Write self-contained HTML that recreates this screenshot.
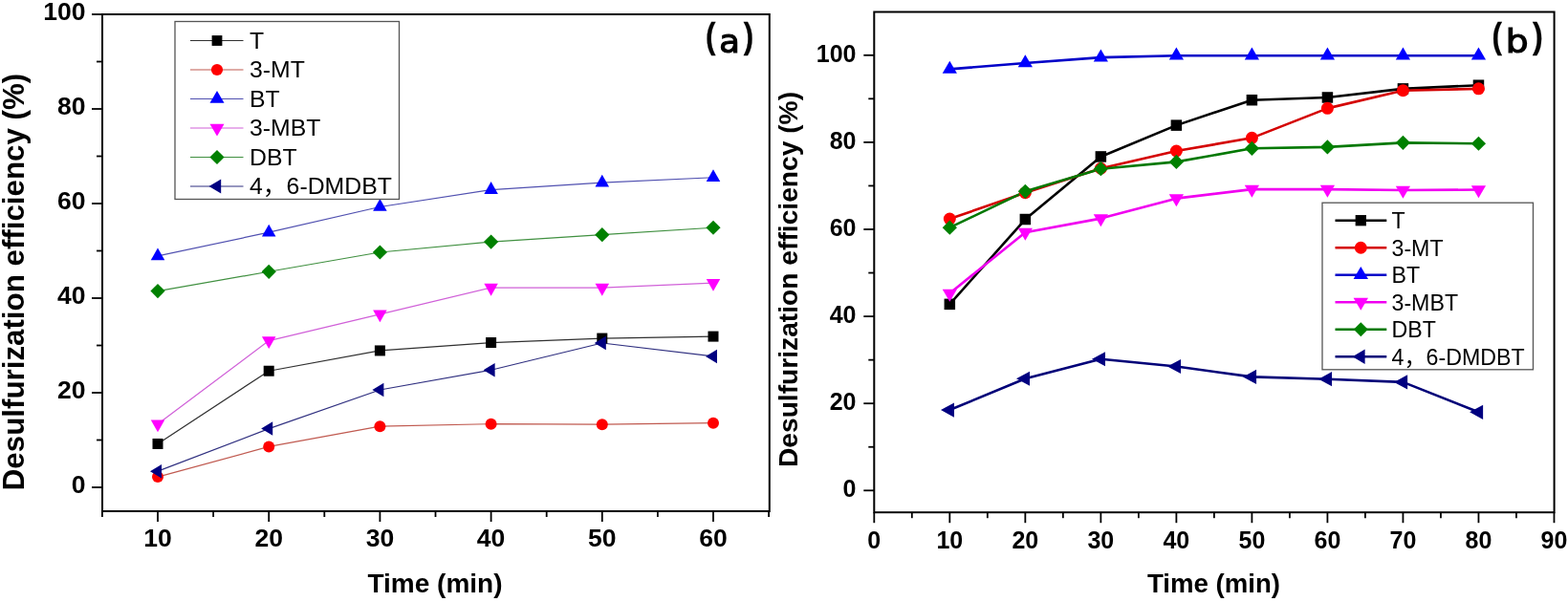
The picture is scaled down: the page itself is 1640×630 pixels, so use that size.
<!DOCTYPE html>
<html><head><meta charset="utf-8"><title>Desulfurization efficiency</title><style>
html,body{margin:0;padding:0;background:#fff;}
body{width:1640px;height:630px;overflow:hidden;}
svg{display:block;}
text{font-family:"Liberation Sans",Arial,sans-serif;fill:#000;}
.tl{font-size:26.5px;font-weight:bold;}
.tr{font-size:25px;font-weight:bold;}
.xtl{font-size:28px;font-weight:bold;}
.xtr{font-size:27.6px;font-weight:bold;}
.ytl{font-size:31.3px;font-weight:bold;}
.ytr{font-size:28.2px;font-weight:bold;}
.pla{font-size:38px;font-weight:bold;letter-spacing:2.5px;}
.lgl{font-size:24.8px;}
.lgr{font-size:23.2px;}
.cjk{font-family:"Liberation Sans","Noto Sans CJK SC",sans-serif;}
</style></head>
<body><svg width="1640" height="630" viewBox="0 0 1640 630">
<rect x="0" y="0" width="1640" height="630" fill="#fff"/>
<polyline points="165.00,464.46 281.20,388.23 397.40,366.94 513.60,358.53 629.80,354.07 746.00,352.10" fill="none" stroke="#303030" stroke-width="1.2" stroke-linejoin="round"/>
<polyline points="165.00,499.11 281.20,467.43 397.40,446.14 513.60,443.67 629.80,444.16 746.00,442.68" fill="none" stroke="#c05a50" stroke-width="1.2" stroke-linejoin="round"/>
<polyline points="165.00,267.94 281.20,243.19 397.40,216.47 513.60,198.64 629.80,191.22 746.00,185.77" fill="none" stroke="#5050b0" stroke-width="1.2" stroke-linejoin="round"/>
<polyline points="165.00,443.67 281.20,356.55 397.40,328.83 513.60,301.11 629.80,301.11 746.00,296.16" fill="none" stroke="#d060d8" stroke-width="1.2" stroke-linejoin="round"/>
<polyline points="165.00,304.57 281.20,284.28 397.40,263.99 513.60,253.09 629.80,245.67 746.00,238.25" fill="none" stroke="#409040" stroke-width="1.2" stroke-linejoin="round"/>
<polyline points="165.00,493.17 281.20,448.62 397.40,408.03 513.60,387.24 629.80,359.02 746.00,372.88" fill="none" stroke="#303080" stroke-width="1.2" stroke-linejoin="round"/>
<rect x="159.50" y="458.96" width="11" height="11" fill="#000000"/>
<rect x="275.70" y="382.73" width="11" height="11" fill="#000000"/>
<rect x="391.90" y="361.44" width="11" height="11" fill="#000000"/>
<rect x="508.10" y="353.03" width="11" height="11" fill="#000000"/>
<rect x="624.30" y="348.57" width="11" height="11" fill="#000000"/>
<rect x="740.50" y="346.60" width="11" height="11" fill="#000000"/>
<circle cx="165.00" cy="499.11" r="6.0" fill="#ff0000"/>
<circle cx="281.20" cy="467.43" r="6.0" fill="#ff0000"/>
<circle cx="397.40" cy="446.14" r="6.0" fill="#ff0000"/>
<circle cx="513.60" cy="443.67" r="6.0" fill="#ff0000"/>
<circle cx="629.80" cy="444.16" r="6.0" fill="#ff0000"/>
<circle cx="746.00" cy="442.68" r="6.0" fill="#ff0000"/>
<polygon points="165.00,259.41 172.25,272.21 157.75,272.21" fill="#0000ff"/>
<polygon points="281.20,234.66 288.45,247.46 273.95,247.46" fill="#0000ff"/>
<polygon points="397.40,207.93 404.65,220.73 390.15,220.73" fill="#0000ff"/>
<polygon points="513.60,190.11 520.85,202.91 506.35,202.91" fill="#0000ff"/>
<polygon points="629.80,182.69 637.05,195.49 622.55,195.49" fill="#0000ff"/>
<polygon points="746.00,177.24 753.25,190.04 738.75,190.04" fill="#0000ff"/>
<polygon points="165.00,452.20 172.25,439.40 157.75,439.40" fill="#ff00ff"/>
<polygon points="281.20,365.08 288.45,352.28 273.95,352.28" fill="#ff00ff"/>
<polygon points="397.40,337.36 404.65,324.56 390.15,324.56" fill="#ff00ff"/>
<polygon points="513.60,309.64 520.85,296.84 506.35,296.84" fill="#ff00ff"/>
<polygon points="629.80,309.64 637.05,296.84 622.55,296.84" fill="#ff00ff"/>
<polygon points="746.00,304.69 753.25,291.89 738.75,291.89" fill="#ff00ff"/>
<polygon points="165.00,296.97 172.60,304.57 165.00,312.18 157.40,304.57" fill="#008000"/>
<polygon points="281.20,276.68 288.80,284.28 281.20,291.88 273.60,284.28" fill="#008000"/>
<polygon points="397.40,256.38 405.00,263.99 397.40,271.59 389.80,263.99" fill="#008000"/>
<polygon points="513.60,245.49 521.20,253.09 513.60,260.69 506.00,253.09" fill="#008000"/>
<polygon points="629.80,238.07 637.40,245.67 629.80,253.27 622.20,245.67" fill="#008000"/>
<polygon points="746.00,230.65 753.60,238.25 746.00,245.84 738.40,238.25" fill="#008000"/>
<polygon points="157.00,493.17 169.00,485.92 169.00,500.42" fill="#000080"/>
<polygon points="273.20,448.62 285.20,441.37 285.20,455.87" fill="#000080"/>
<polygon points="389.40,408.03 401.40,400.78 401.40,415.28" fill="#000080"/>
<polygon points="505.60,387.24 517.60,379.99 517.60,394.49" fill="#000080"/>
<polygon points="621.80,359.02 633.80,351.77 633.80,366.27" fill="#000080"/>
<polygon points="738.00,372.88 750.00,365.63 750.00,380.13" fill="#000080"/>
<rect x="107" y="15" width="697.8" height="520" fill="none" stroke="#000" stroke-width="2"/>
<line x1="96" y1="510.00" x2="107" y2="510.00" stroke="#000" stroke-width="1.8"/>
<text x="89.4" y="516.40" text-anchor="end" class="tl">0</text>
<line x1="96" y1="411.00" x2="107" y2="411.00" stroke="#000" stroke-width="1.8"/>
<text x="89.4" y="417.40" text-anchor="end" class="tl">20</text>
<line x1="96" y1="312.00" x2="107" y2="312.00" stroke="#000" stroke-width="1.8"/>
<text x="89.4" y="318.40" text-anchor="end" class="tl">40</text>
<line x1="96" y1="213.00" x2="107" y2="213.00" stroke="#000" stroke-width="1.8"/>
<text x="89.4" y="219.40" text-anchor="end" class="tl">60</text>
<line x1="96" y1="114.00" x2="107" y2="114.00" stroke="#000" stroke-width="1.8"/>
<text x="89.4" y="120.40" text-anchor="end" class="tl">80</text>
<line x1="96" y1="15.00" x2="107" y2="15.00" stroke="#000" stroke-width="1.8"/>
<text x="89.4" y="21.40" text-anchor="end" class="tl">100</text>
<line x1="101" y1="460.50" x2="107" y2="460.50" stroke="#000" stroke-width="1.8"/>
<line x1="101" y1="361.50" x2="107" y2="361.50" stroke="#000" stroke-width="1.8"/>
<line x1="101" y1="262.50" x2="107" y2="262.50" stroke="#000" stroke-width="1.8"/>
<line x1="101" y1="163.50" x2="107" y2="163.50" stroke="#000" stroke-width="1.8"/>
<line x1="101" y1="64.50" x2="107" y2="64.50" stroke="#000" stroke-width="1.8"/>
<line x1="165.00" y1="535" x2="165.00" y2="546" stroke="#000" stroke-width="1.8"/>
<text x="165.00" y="572" text-anchor="middle" class="tl">10</text>
<line x1="281.20" y1="535" x2="281.20" y2="546" stroke="#000" stroke-width="1.8"/>
<text x="281.20" y="572" text-anchor="middle" class="tl">20</text>
<line x1="397.40" y1="535" x2="397.40" y2="546" stroke="#000" stroke-width="1.8"/>
<text x="397.40" y="572" text-anchor="middle" class="tl">30</text>
<line x1="513.60" y1="535" x2="513.60" y2="546" stroke="#000" stroke-width="1.8"/>
<text x="513.60" y="572" text-anchor="middle" class="tl">40</text>
<line x1="629.80" y1="535" x2="629.80" y2="546" stroke="#000" stroke-width="1.8"/>
<text x="629.80" y="572" text-anchor="middle" class="tl">50</text>
<line x1="746.00" y1="535" x2="746.00" y2="546" stroke="#000" stroke-width="1.8"/>
<text x="746.00" y="572" text-anchor="middle" class="tl">60</text>
<line x1="106.90" y1="535" x2="106.90" y2="541" stroke="#000" stroke-width="1.8"/>
<line x1="223.10" y1="535" x2="223.10" y2="541" stroke="#000" stroke-width="1.8"/>
<line x1="339.30" y1="535" x2="339.30" y2="541" stroke="#000" stroke-width="1.8"/>
<line x1="455.50" y1="535" x2="455.50" y2="541" stroke="#000" stroke-width="1.8"/>
<line x1="571.70" y1="535" x2="571.70" y2="541" stroke="#000" stroke-width="1.8"/>
<line x1="687.90" y1="535" x2="687.90" y2="541" stroke="#000" stroke-width="1.8"/>
<line x1="804.10" y1="535" x2="804.10" y2="541" stroke="#000" stroke-width="1.8"/>
<text x="455" y="620.3" text-anchor="middle" class="xtl">Time (min)</text>
<text transform="translate(25,295) rotate(-90)" text-anchor="middle" class="ytl">Desulfurization efficiency (%)</text>
<text transform="translate(738.12,50.20) scale(0.791,0.938)" style="font-family:'Liberation Sans',sans-serif;font-weight:bold;font-size:39.5px;stroke:#000;stroke-width:0.3px">(</text>
<text transform="translate(752.31,55.20) scale(0.994,0.940)" style="font-family:'DejaVu Sans',sans-serif;font-weight:normal;font-size:35.5px;stroke:#000;stroke-width:1.2px">a</text>
<text transform="translate(777.80,50.20) scale(0.791,0.938)" style="font-family:'Liberation Sans',sans-serif;font-weight:bold;font-size:39.5px;stroke:#000;stroke-width:0.3px">)</text>
<rect x="183" y="22.5" width="234.5" height="186.0" fill="#fff" stroke="#555" stroke-width="1.3"/>
<line x1="199" y1="42.50" x2="254.5" y2="42.50" stroke="#303030" stroke-width="1.2"/>
<rect x="221.60" y="37.10" width="10.8" height="10.8" fill="#000000"/>
<text x="261" y="50.50" class="lgl">T</text>
<line x1="199" y1="73.00" x2="254.5" y2="73.00" stroke="#c05a50" stroke-width="1.2"/>
<circle cx="227.00" cy="73.00" r="6.1" fill="#ff0000"/>
<text x="261" y="81.00" class="lgl">3-MT</text>
<line x1="199" y1="103.50" x2="254.5" y2="103.50" stroke="#5050b0" stroke-width="1.2"/>
<polygon points="227.00,95.10 234.50,107.70 219.50,107.70" fill="#0000ff"/>
<text x="261" y="111.50" class="lgl">BT</text>
<line x1="199" y1="134.00" x2="254.5" y2="134.00" stroke="#d060d8" stroke-width="1.2"/>
<polygon points="227.00,142.40 234.50,129.80 219.50,129.80" fill="#ff00ff"/>
<text x="261" y="142.00" class="lgl">3-MBT</text>
<line x1="199" y1="164.50" x2="254.5" y2="164.50" stroke="#409040" stroke-width="1.2"/>
<polygon points="227.00,156.90 234.60,164.50 227.00,172.10 219.40,164.50" fill="#008000"/>
<text x="261" y="172.50" class="lgl">DBT</text>
<line x1="199" y1="195.00" x2="254.5" y2="195.00" stroke="#303080" stroke-width="1.2"/>
<polygon points="218.60,195.00 231.20,187.50 231.20,202.50" fill="#000080"/>
<text x="261" y="203.00" class="lgl">4<tspan class="cjk">，</tspan>6-DMDBT</text>
<polyline points="993.32,318.35 1072.34,229.52 1151.36,163.93 1230.38,131.14 1309.40,104.72 1388.42,101.98 1467.44,92.87 1546.46,89.23" fill="none" stroke="#000000" stroke-width="2.6" stroke-linejoin="round"/>
<polyline points="993.32,229.07 1072.34,201.74 1151.36,176.23 1230.38,158.01 1309.40,144.34 1388.42,113.37 1467.44,94.70 1546.46,92.87" fill="none" stroke="#d40000" stroke-width="2.6" stroke-linejoin="round"/>
<polyline points="993.32,72.38 1072.34,66.00 1151.36,60.08 1230.38,58.26 1309.40,58.26 1388.42,58.26 1467.44,58.26 1546.46,58.26" fill="none" stroke="#0000c8" stroke-width="2.6" stroke-linejoin="round"/>
<polyline points="993.32,306.96 1072.34,243.19 1151.36,228.61 1230.38,207.66 1309.40,198.09 1388.42,198.09 1467.44,199.00 1546.46,198.55" fill="none" stroke="#f000f0" stroke-width="2.6" stroke-linejoin="round"/>
<polyline points="993.32,238.18 1072.34,200.37 1151.36,176.69 1230.38,169.40 1309.40,155.28 1388.42,153.91 1467.44,149.36 1546.46,150.27" fill="none" stroke="#007800" stroke-width="2.6" stroke-linejoin="round"/>
<polyline points="993.32,429.03 1072.34,396.24 1151.36,375.74 1230.38,383.48 1309.40,394.41 1388.42,396.69 1467.44,399.88 1546.46,431.31" fill="none" stroke="#000078" stroke-width="2.6" stroke-linejoin="round"/>
<rect x="987.57" y="312.60" width="11.5" height="11.5" fill="#000000"/>
<rect x="1066.59" y="223.77" width="11.5" height="11.5" fill="#000000"/>
<rect x="1145.61" y="158.18" width="11.5" height="11.5" fill="#000000"/>
<rect x="1224.63" y="125.39" width="11.5" height="11.5" fill="#000000"/>
<rect x="1303.65" y="98.97" width="11.5" height="11.5" fill="#000000"/>
<rect x="1382.67" y="96.23" width="11.5" height="11.5" fill="#000000"/>
<rect x="1461.69" y="87.12" width="11.5" height="11.5" fill="#000000"/>
<rect x="1540.71" y="83.48" width="11.5" height="11.5" fill="#000000"/>
<circle cx="993.32" cy="229.07" r="6.5" fill="#ff0000"/>
<circle cx="1072.34" cy="201.74" r="6.5" fill="#ff0000"/>
<circle cx="1151.36" cy="176.23" r="6.5" fill="#ff0000"/>
<circle cx="1230.38" cy="158.01" r="6.5" fill="#ff0000"/>
<circle cx="1309.40" cy="144.34" r="6.5" fill="#ff0000"/>
<circle cx="1388.42" cy="113.37" r="6.5" fill="#ff0000"/>
<circle cx="1467.44" cy="94.70" r="6.5" fill="#ff0000"/>
<circle cx="1546.46" cy="92.87" r="6.5" fill="#ff0000"/>
<polygon points="993.32,63.71 1000.92,76.71 985.72,76.71" fill="#0000ff"/>
<polygon points="1072.34,57.33 1079.94,70.33 1064.74,70.33" fill="#0000ff"/>
<polygon points="1151.36,51.41 1158.96,64.41 1143.76,64.41" fill="#0000ff"/>
<polygon points="1230.38,49.59 1237.98,62.59 1222.78,62.59" fill="#0000ff"/>
<polygon points="1309.40,49.59 1317.00,62.59 1301.80,62.59" fill="#0000ff"/>
<polygon points="1388.42,49.59 1396.02,62.59 1380.82,62.59" fill="#0000ff"/>
<polygon points="1467.44,49.59 1475.04,62.59 1459.84,62.59" fill="#0000ff"/>
<polygon points="1546.46,49.59 1554.06,62.59 1538.86,62.59" fill="#0000ff"/>
<polygon points="993.32,315.63 1000.92,302.63 985.72,302.63" fill="#ff00ff"/>
<polygon points="1072.34,251.86 1079.94,238.86 1064.74,238.86" fill="#ff00ff"/>
<polygon points="1151.36,237.28 1158.96,224.28 1143.76,224.28" fill="#ff00ff"/>
<polygon points="1230.38,216.33 1237.98,203.33 1222.78,203.33" fill="#ff00ff"/>
<polygon points="1309.40,206.76 1317.00,193.76 1301.80,193.76" fill="#ff00ff"/>
<polygon points="1388.42,206.76 1396.02,193.76 1380.82,193.76" fill="#ff00ff"/>
<polygon points="1467.44,207.67 1475.04,194.67 1459.84,194.67" fill="#ff00ff"/>
<polygon points="1546.46,207.22 1554.06,194.22 1538.86,194.22" fill="#ff00ff"/>
<polygon points="993.32,230.58 1000.92,238.18 993.32,245.78 985.72,238.18" fill="#008000"/>
<polygon points="1072.34,192.77 1079.94,200.37 1072.34,207.97 1064.74,200.37" fill="#008000"/>
<polygon points="1151.36,169.09 1158.96,176.69 1151.36,184.29 1143.76,176.69" fill="#008000"/>
<polygon points="1230.38,161.80 1237.98,169.40 1230.38,177.00 1222.78,169.40" fill="#008000"/>
<polygon points="1309.40,147.68 1317.00,155.28 1309.40,162.88 1301.80,155.28" fill="#008000"/>
<polygon points="1388.42,146.31 1396.02,153.91 1388.42,161.51 1380.82,153.91" fill="#008000"/>
<polygon points="1467.44,141.76 1475.04,149.36 1467.44,156.96 1459.84,149.36" fill="#008000"/>
<polygon points="1546.46,142.67 1554.06,150.27 1546.46,157.87 1538.86,150.27" fill="#008000"/>
<polygon points="983.99,429.03 997.99,421.43 997.99,436.63" fill="#000080"/>
<polygon points="1063.01,396.24 1077.01,388.64 1077.01,403.84" fill="#000080"/>
<polygon points="1142.03,375.74 1156.03,368.14 1156.03,383.34" fill="#000080"/>
<polygon points="1221.05,383.48 1235.05,375.88 1235.05,391.08" fill="#000080"/>
<polygon points="1300.07,394.41 1314.07,386.81 1314.07,402.01" fill="#000080"/>
<polygon points="1379.09,396.69 1393.09,389.09 1393.09,404.29" fill="#000080"/>
<polygon points="1458.11,399.88 1472.11,392.28 1472.11,407.48" fill="#000080"/>
<polygon points="1537.13,431.31 1551.13,423.71 1551.13,438.91" fill="#000080"/>
<rect x="914.3" y="12.5" width="711.3" height="523.7" fill="none" stroke="#000" stroke-width="2"/>
<line x1="903.3" y1="513.30" x2="914.3" y2="513.30" stroke="#000" stroke-width="1.8"/>
<text x="895.5" y="520.30" text-anchor="end" class="tr">0</text>
<line x1="903.3" y1="422.20" x2="914.3" y2="422.20" stroke="#000" stroke-width="1.8"/>
<text x="895.5" y="429.20" text-anchor="end" class="tr">20</text>
<line x1="903.3" y1="331.10" x2="914.3" y2="331.10" stroke="#000" stroke-width="1.8"/>
<text x="895.5" y="338.10" text-anchor="end" class="tr">40</text>
<line x1="903.3" y1="240.00" x2="914.3" y2="240.00" stroke="#000" stroke-width="1.8"/>
<text x="895.5" y="247.00" text-anchor="end" class="tr">60</text>
<line x1="903.3" y1="148.90" x2="914.3" y2="148.90" stroke="#000" stroke-width="1.8"/>
<text x="895.5" y="155.90" text-anchor="end" class="tr">80</text>
<line x1="903.3" y1="57.80" x2="914.3" y2="57.80" stroke="#000" stroke-width="1.8"/>
<text x="895.5" y="64.80" text-anchor="end" class="tr">100</text>
<line x1="908.3" y1="467.75" x2="914.3" y2="467.75" stroke="#000" stroke-width="1.8"/>
<line x1="908.3" y1="376.65" x2="914.3" y2="376.65" stroke="#000" stroke-width="1.8"/>
<line x1="908.3" y1="285.55" x2="914.3" y2="285.55" stroke="#000" stroke-width="1.8"/>
<line x1="908.3" y1="194.45" x2="914.3" y2="194.45" stroke="#000" stroke-width="1.8"/>
<line x1="908.3" y1="103.35" x2="914.3" y2="103.35" stroke="#000" stroke-width="1.8"/>
<line x1="914.30" y1="536.2" x2="914.30" y2="547.2" stroke="#000" stroke-width="1.8"/>
<text x="914.30" y="574" text-anchor="middle" class="tr">0</text>
<line x1="993.32" y1="536.2" x2="993.32" y2="547.2" stroke="#000" stroke-width="1.8"/>
<text x="993.32" y="574" text-anchor="middle" class="tr">10</text>
<line x1="1072.34" y1="536.2" x2="1072.34" y2="547.2" stroke="#000" stroke-width="1.8"/>
<text x="1072.34" y="574" text-anchor="middle" class="tr">20</text>
<line x1="1151.36" y1="536.2" x2="1151.36" y2="547.2" stroke="#000" stroke-width="1.8"/>
<text x="1151.36" y="574" text-anchor="middle" class="tr">30</text>
<line x1="1230.38" y1="536.2" x2="1230.38" y2="547.2" stroke="#000" stroke-width="1.8"/>
<text x="1230.38" y="574" text-anchor="middle" class="tr">40</text>
<line x1="1309.40" y1="536.2" x2="1309.40" y2="547.2" stroke="#000" stroke-width="1.8"/>
<text x="1309.40" y="574" text-anchor="middle" class="tr">50</text>
<line x1="1388.42" y1="536.2" x2="1388.42" y2="547.2" stroke="#000" stroke-width="1.8"/>
<text x="1388.42" y="574" text-anchor="middle" class="tr">60</text>
<line x1="1467.44" y1="536.2" x2="1467.44" y2="547.2" stroke="#000" stroke-width="1.8"/>
<text x="1467.44" y="574" text-anchor="middle" class="tr">70</text>
<line x1="1546.46" y1="536.2" x2="1546.46" y2="547.2" stroke="#000" stroke-width="1.8"/>
<text x="1546.46" y="574" text-anchor="middle" class="tr">80</text>
<line x1="1625.48" y1="536.2" x2="1625.48" y2="547.2" stroke="#000" stroke-width="1.8"/>
<text x="1625.48" y="574" text-anchor="middle" class="tr">90</text>
<line x1="953.81" y1="536.2" x2="953.81" y2="542.2" stroke="#000" stroke-width="1.8"/>
<line x1="1032.83" y1="536.2" x2="1032.83" y2="542.2" stroke="#000" stroke-width="1.8"/>
<line x1="1111.85" y1="536.2" x2="1111.85" y2="542.2" stroke="#000" stroke-width="1.8"/>
<line x1="1190.87" y1="536.2" x2="1190.87" y2="542.2" stroke="#000" stroke-width="1.8"/>
<line x1="1269.89" y1="536.2" x2="1269.89" y2="542.2" stroke="#000" stroke-width="1.8"/>
<line x1="1348.91" y1="536.2" x2="1348.91" y2="542.2" stroke="#000" stroke-width="1.8"/>
<line x1="1427.93" y1="536.2" x2="1427.93" y2="542.2" stroke="#000" stroke-width="1.8"/>
<line x1="1506.95" y1="536.2" x2="1506.95" y2="542.2" stroke="#000" stroke-width="1.8"/>
<line x1="1585.97" y1="536.2" x2="1585.97" y2="542.2" stroke="#000" stroke-width="1.8"/>
<text x="1269.5" y="620.3" text-anchor="middle" class="xtr">Time (min)</text>
<text transform="translate(834.2,292.5) rotate(-90)" text-anchor="middle" class="ytr">Desulfurization efficiency (%)</text>
<text transform="translate(1560.52,50.20) scale(0.791,0.938)" style="font-family:'Liberation Sans',sans-serif;font-weight:bold;font-size:39.5px;stroke:#000;stroke-width:0.3px">(</text>
<text transform="translate(1574.81,55.20) scale(1.032,0.946)" style="font-family:'DejaVu Sans',sans-serif;font-weight:normal;font-size:36.5px;stroke:#000;stroke-width:1.2px">b</text>
<text transform="translate(1603.00,50.20) scale(0.818,0.938)" style="font-family:'Liberation Sans',sans-serif;font-weight:bold;font-size:39.5px;stroke:#000;stroke-width:0.3px">)</text>
<rect x="1383" y="212.2" width="220.5" height="174.60000000000002" fill="#fff" stroke="#555" stroke-width="1.3"/>
<line x1="1396.5" y1="230.70" x2="1450.3" y2="230.70" stroke="#000000" stroke-width="2.6"/>
<rect x="1417.65" y="225.05" width="11.3" height="11.3" fill="#000000"/>
<text x="1455.5" y="239.10" class="lgr">T</text>
<line x1="1396.5" y1="259.20" x2="1450.3" y2="259.20" stroke="#d40000" stroke-width="2.6"/>
<circle cx="1423.30" cy="259.20" r="6.45" fill="#ff0000"/>
<text x="1455.5" y="267.60" class="lgr">3-MT</text>
<line x1="1396.5" y1="287.70" x2="1450.3" y2="287.70" stroke="#0000c8" stroke-width="2.6"/>
<polygon points="1423.30,279.03 1431.00,292.03 1415.60,292.03" fill="#0000ff"/>
<text x="1455.5" y="296.10" class="lgr">BT</text>
<line x1="1396.5" y1="316.20" x2="1450.3" y2="316.20" stroke="#f000f0" stroke-width="2.6"/>
<polygon points="1423.30,324.87 1431.00,311.87 1415.60,311.87" fill="#ff00ff"/>
<text x="1455.5" y="324.60" class="lgr">3-MBT</text>
<line x1="1396.5" y1="344.70" x2="1450.3" y2="344.70" stroke="#007800" stroke-width="2.6"/>
<polygon points="1423.30,337.20 1430.80,344.70 1423.30,352.20 1415.80,344.70" fill="#008000"/>
<text x="1455.5" y="353.10" class="lgr">DBT</text>
<line x1="1396.5" y1="373.20" x2="1450.3" y2="373.20" stroke="#000078" stroke-width="2.6"/>
<polygon points="1414.63,373.20 1427.63,365.50 1427.63,380.90" fill="#000080"/>
<text x="1455.5" y="381.60" class="lgr">4<tspan class="cjk">，</tspan>6-DMDBT</text>
</svg></body></html>
